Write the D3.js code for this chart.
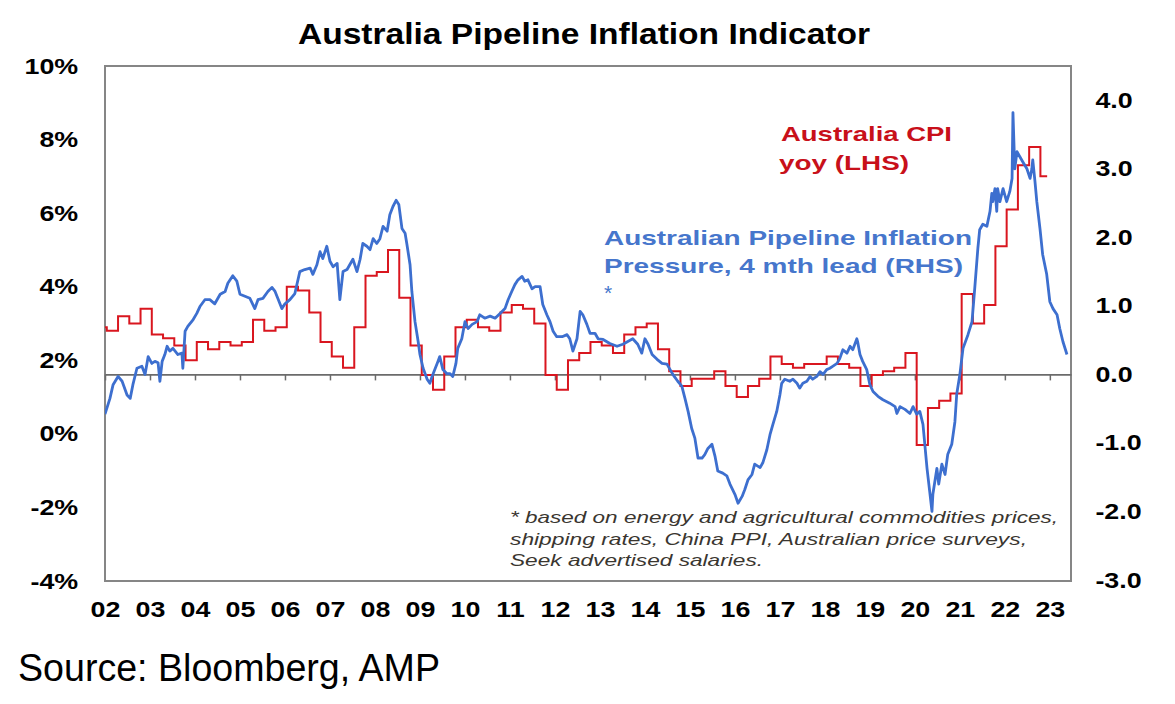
<!doctype html>
<html>
<head>
<meta charset="utf-8">
<script src="https://d3js.org/d3.v7.min.js"></script>
<style>
  body { margin: 0; background: #fff; }
  svg text { font-family: "Liberation Sans", Arial, sans-serif; }
  .tick text { font-size: 22px; font-weight: bold; fill: #000; }
</style>
</head>
<body>
<svg id="chart" width="1175" height="704"></svg>
<script>
// ---- data ----
const years = d3.range(2002, 2024);
const leftTicks = [-4, -2, 0, 2, 4, 6, 8, 10];
const rightTicks = [-3, -2, -1, 0, 1, 2, 3, 4];

// Australia CPI yoy %, quarterly from Mar-02 to Mar-23
const cpiQuarterly = [
  2.9, 2.8, 3.2, 3.0,   3.4, 2.7, 2.6, 2.4,   2.0, 2.5, 2.3, 2.5,
  2.4, 2.5, 3.1, 2.8,   2.9, 4.0, 3.9, 3.3,   2.5, 2.1, 1.8, 2.9,
  4.3, 4.4, 5.0, 3.7,   2.4, 1.6, 1.2, 2.1,   2.9, 3.1, 2.9, 2.8,
  3.3, 3.5, 3.4, 3.0,   1.6, 1.2, 2.0, 2.2,   2.5, 2.4, 2.2, 2.7,
  2.9, 3.0, 2.3, 1.7,   1.3, 1.5, 1.5, 1.7,   1.3, 1.0, 1.3, 1.5,
  2.1, 1.9, 1.8, 1.9,   1.9, 2.1, 1.9, 1.8,   1.3, 1.6, 1.7, 1.8,
  2.2, -0.3, 0.7, 0.9,  1.1, 3.8, 3.0, 3.5,   5.1, 6.1, 7.3, 7.8,
  7.0
];
const cpiStart = 2001.79;   // where the first quarter's step begins on the x axis
const cpiEnd = 2022.94;     // where the last step stops

// Pipeline inflation pressure (RHS), [year, value]
const pipeline = [
  [2002.00,-0.58],[2002.11,-0.35],[2002.18,-0.15],[2002.29,-0.03],[2002.38,-0.10],[2002.49,-0.30],
  [2002.56,-0.35],[2002.62,-0.15],[2002.71,0.09],[2002.82,0.12],[2002.89,0.00],[2002.96,0.26],
  [2003.04,0.16],[2003.11,0.19],[2003.18,0.17],[2003.22,-0.10],[2003.27,0.19],[2003.33,0.29],
  [2003.38,0.41],[2003.44,0.34],[2003.51,0.38],[2003.62,0.29],[2003.71,0.31],[2003.73,0.09],
  [2003.78,0.63],[2003.84,0.70],[2003.96,0.80],[2004.04,0.89],[2004.11,0.99],[2004.22,1.09],
  [2004.33,1.09],[2004.44,1.03],[2004.56,1.17],[2004.67,1.21],[2004.73,1.33],[2004.84,1.44],
  [2004.93,1.36],[2005.00,1.17],[2005.11,1.14],[2005.22,1.11],[2005.33,0.96],[2005.40,1.09],
  [2005.51,1.11],[2005.62,1.21],[2005.71,1.27],[2005.78,1.21],[2005.84,1.11],[2005.93,0.96],
  [2006.00,1.03],[2006.11,1.09],[2006.22,1.18],[2006.33,1.50],[2006.44,1.53],[2006.56,1.55],
  [2006.62,1.46],[2006.71,1.60],[2006.78,1.79],[2006.84,1.69],[2006.93,1.87],[2007.00,1.65],
  [2007.07,1.57],[2007.16,1.62],[2007.22,1.09],[2007.29,1.50],[2007.38,1.53],[2007.44,1.60],
  [2007.51,1.68],[2007.60,1.50],[2007.67,1.68],[2007.73,1.91],[2007.82,1.87],[2007.89,1.82],
  [2007.96,1.98],[2008.04,1.91],[2008.11,1.98],[2008.18,2.16],[2008.27,2.09],[2008.33,2.33],
  [2008.40,2.45],[2008.47,2.54],[2008.53,2.48],[2008.60,2.13],[2008.67,2.06],[2008.71,1.90],
  [2008.78,1.60],[2008.82,1.21],[2008.89,0.77],[2008.96,0.48],[2009.00,0.29],[2009.07,0.09],
  [2009.16,-0.07],[2009.22,-0.13],[2009.27,-0.03],[2009.33,0.07],[2009.40,0.19],[2009.44,0.26],
  [2009.51,0.07],[2009.60,0.01],[2009.67,0.01],[2009.73,-0.03],[2009.80,0.16],[2009.84,0.38],
  [2009.93,0.52],[2010.00,0.77],[2010.07,0.67],[2010.16,0.73],[2010.27,0.77],[2010.33,0.87],
  [2010.44,0.82],[2010.56,0.85],[2010.67,0.82],[2010.78,0.89],[2010.89,0.96],[2010.96,1.09],
  [2011.04,1.21],[2011.11,1.31],[2011.18,1.38],[2011.27,1.43],[2011.33,1.36],[2011.40,1.38],
  [2011.49,1.25],[2011.56,1.28],[2011.67,1.28],[2011.73,1.02],[2011.82,0.87],[2011.89,0.77],
  [2011.96,0.63],[2012.04,0.55],[2012.16,0.55],[2012.27,0.58],[2012.33,0.52],[2012.40,0.34],
  [2012.49,0.52],[2012.56,0.92],[2012.62,0.87],[2012.71,0.73],[2012.78,0.60],[2012.89,0.60],
  [2012.96,0.52],[2013.07,0.51],[2013.22,0.45],[2013.38,0.41],[2013.51,0.44],[2013.62,0.48],
  [2013.73,0.52],[2013.84,0.44],[2013.93,0.31],[2014.00,0.52],[2014.07,0.44],[2014.16,0.29],
  [2014.27,0.22],[2014.38,0.16],[2014.49,0.15],[2014.56,0.07],[2014.62,0.00],[2014.73,-0.10],
  [2014.82,-0.17],[2014.89,-0.35],[2014.96,-0.54],[2015.04,-0.79],[2015.11,-0.93],[2015.18,-1.22],
  [2015.27,-1.22],[2015.33,-1.17],[2015.40,-1.08],[2015.49,-1.02],[2015.56,-1.20],[2015.62,-1.41],
  [2015.73,-1.44],[2015.82,-1.48],[2015.89,-1.60],[2016.00,-1.75],[2016.07,-1.88],[2016.16,-1.78],
  [2016.22,-1.68],[2016.29,-1.54],[2016.38,-1.46],[2016.44,-1.31],[2016.56,-1.36],[2016.62,-1.29],
  [2016.71,-1.10],[2016.78,-0.88],[2016.84,-0.74],[2016.93,-0.54],[2017.00,-0.30],[2017.04,-0.13],
  [2017.11,-0.07],[2017.22,-0.10],[2017.29,-0.07],[2017.38,-0.13],[2017.44,-0.20],[2017.51,-0.13],
  [2017.60,-0.10],[2017.67,-0.03],[2017.73,-0.07],[2017.82,-0.03],[2017.89,0.04],[2017.96,0.00],
  [2018.04,0.07],[2018.11,0.09],[2018.18,0.12],[2018.27,0.16],[2018.33,0.23],[2018.40,0.36],
  [2018.49,0.31],[2018.56,0.41],[2018.62,0.36],[2018.71,0.52],[2018.73,0.47],[2018.78,0.29],
  [2018.84,0.19],[2018.93,0.07],[2019.00,-0.15],[2019.07,-0.25],[2019.18,-0.32],[2019.29,-0.37],
  [2019.44,-0.42],[2019.56,-0.47],[2019.60,-0.57],[2019.67,-0.47],[2019.78,-0.51],[2019.89,-0.57],
  [2019.96,-0.47],[2020.04,-0.58],[2020.11,-0.54],[2020.18,-0.73],[2020.27,-1.37],[2020.33,-1.71],
  [2020.38,-2.00],[2020.40,-1.75],[2020.49,-1.37],[2020.53,-1.60],[2020.60,-1.31],[2020.67,-1.46],
  [2020.73,-1.17],[2020.82,-1.02],[2020.89,-0.69],[2020.93,-0.29],[2021.00,0.00],[2021.07,0.38],
  [2021.18,0.58],[2021.27,0.77],[2021.33,1.25],[2021.40,1.84],[2021.44,2.11],[2021.51,2.19],
  [2021.60,2.16],[2021.67,2.38],[2021.71,2.64],[2021.73,2.52],[2021.78,2.71],[2021.82,2.38],
  [2021.84,2.71],[2021.89,2.52],[2021.96,2.71],[2022.04,2.52],[2022.11,2.67],[2022.16,2.86],
  [2022.18,3.82],[2022.22,3.00],[2022.27,3.25],[2022.33,3.18],[2022.40,3.10],[2022.49,3.00],
  [2022.56,2.86],[2022.60,3.00],[2022.62,3.13],[2022.67,2.81],[2022.71,2.52],[2022.78,2.13],
  [2022.84,1.75],[2022.93,1.46],[2023.00,1.06],[2023.07,0.96],[2023.16,0.87],[2023.22,0.67],
  [2023.29,0.48],[2023.38,0.29]
];

// ---- layout ----
const W = 1175, H = 704;
const pl = 105, pr = 1071, pt = 66, pb = 581;
const sx = 1.22; // the original type is stretched sideways

const svg = d3.select("#chart");
svg.append("rect").attr("width", W).attr("height", H).attr("fill", "#fff");

const x = d3.scaleLinear().domain([2002, 2023.47]).range([pl, pr]);
const yL = d3.scaleLinear().domain([-4, 10]).range([pb, pt]);
const yR = d3.scaleLinear().domain([-3, 4.5]).range([pb - 1, pt]);

svg.append("defs").append("clipPath").attr("id", "plot")
  .append("rect").attr("x", pl).attr("y", pt)
  .attr("width", pr - pl).attr("height", pb - pt);

// frame
svg.append("rect")
  .attr("x", pl).attr("y", pt)
  .attr("width", pr - pl).attr("height", pb - pt)
  .attr("fill", "none").attr("stroke", "#868686").attr("stroke-width", 2);

// zero line with year ticks
const zero = svg.append("g")
  .attr("transform", "translate(0," + yR(0) + ")")
  .call(d3.axisBottom(x).tickValues(years).tickSize(6).tickSizeOuter(0).tickFormat(""));
zero.select(".domain").attr("stroke", "#6b6b6b").attr("stroke-width", 1.6);
zero.selectAll(".tick line").attr("stroke", "#6b6b6b").attr("stroke-width", 1.5);

// axes labels
function stretch(g) {
  g.select(".domain").remove();
  g.selectAll(".tick text").attr("transform", "scale(" + sx + ",1)");
}

svg.append("g")
  .attr("transform", "translate(" + pl + ",0)")
  .call(d3.axisLeft(yL).tickValues(leftTicks).tickSize(0).tickPadding(22).tickFormat(d => d + "%"))
  .call(stretch);

svg.append("g")
  .attr("transform", "translate(" + pr + ",0)")
  .call(d3.axisRight(yR).tickValues(rightTicks).tickSize(0).tickPadding(20).tickFormat(d => d.toFixed(1)))
  .call(stretch);

svg.append("g")
  .attr("transform", "translate(0," + pb + ")")
  .call(d3.axisBottom(x).tickValues(years).tickSize(0).tickPadding(20)
    .tickFormat(d => String(d).slice(2)))
  .call(stretch);

svg.selectAll(".tick text").attr("font-family", null).attr("font-size", null);

// ---- series ----
const plot = svg.append("g").attr("clip-path", "url(#plot)");

const cpiPoints = cpiQuarterly.map((v, i) => [cpiStart + 0.25 * i, v]);
cpiPoints.push([cpiEnd, cpiQuarterly[cpiQuarterly.length - 1]]);

plot.append("path")
  .datum(cpiPoints)
  .attr("fill", "none")
  .attr("stroke", "#d9161f")
  .attr("stroke-width", 2)
  .attr("d", d3.line().x(d => x(d[0])).y(d => yL(d[1])).curve(d3.curveStepAfter));

plot.append("path")
  .datum(pipeline)
  .attr("fill", "none")
  .attr("stroke", "#3d6fcf")
  .attr("stroke-width", 2.8)
  .attr("stroke-linejoin", "round")
  .attr("d", d3.line().x(d => x(d[0])).y(d => yR(d[1])));

// ---- text ----
function label(txt, px, py, size, width, opts) {
  opts = opts || {};
  const t = svg.append("text")
    .attr("x", px).attr("y", py)
    .attr("font-size", size)
    .attr("font-weight", opts.weight || "bold")
    .attr("font-style", opts.style || "normal")
    .attr("fill", opts.fill || "#000")
    .text(txt);
  if (width) t.attr("textLength", width).attr("lengthAdjust", "spacingAndGlyphs");
  return t;
}

label("Australia Pipeline Inflation Indicator", 298, 44, 29, 572);

label("Australia CPI", 781, 141, 21, 171, { fill: "#c8101a" });
label("yoy (LHS)", 779, 170, 21, 130, { fill: "#c8101a" });

label("Australian Pipeline Inflation", 604, 245, 21, 368, { fill: "#4676cc" });
label("Pressure, 4 mth lead (RHS)", 604, 273, 21, 359, { fill: "#4676cc" });
label("*", 604, 300, 21, null, { fill: "#4676cc", weight: "normal" });

const note = { weight: "normal", style: "italic", fill: "#3a3630" };
label("* based on energy and agricultural commodities prices,", 510, 523, 17, 548, note);
label("shipping rates, China PPI, Australian price surveys,", 510, 545, 17, 517, note);
label("Seek advertised salaries.", 510, 566, 17, 253, note);

label("Source: Bloomberg, AMP", 18, 681, 38, 422, { weight: "normal" });
</script>
</body>
</html>
